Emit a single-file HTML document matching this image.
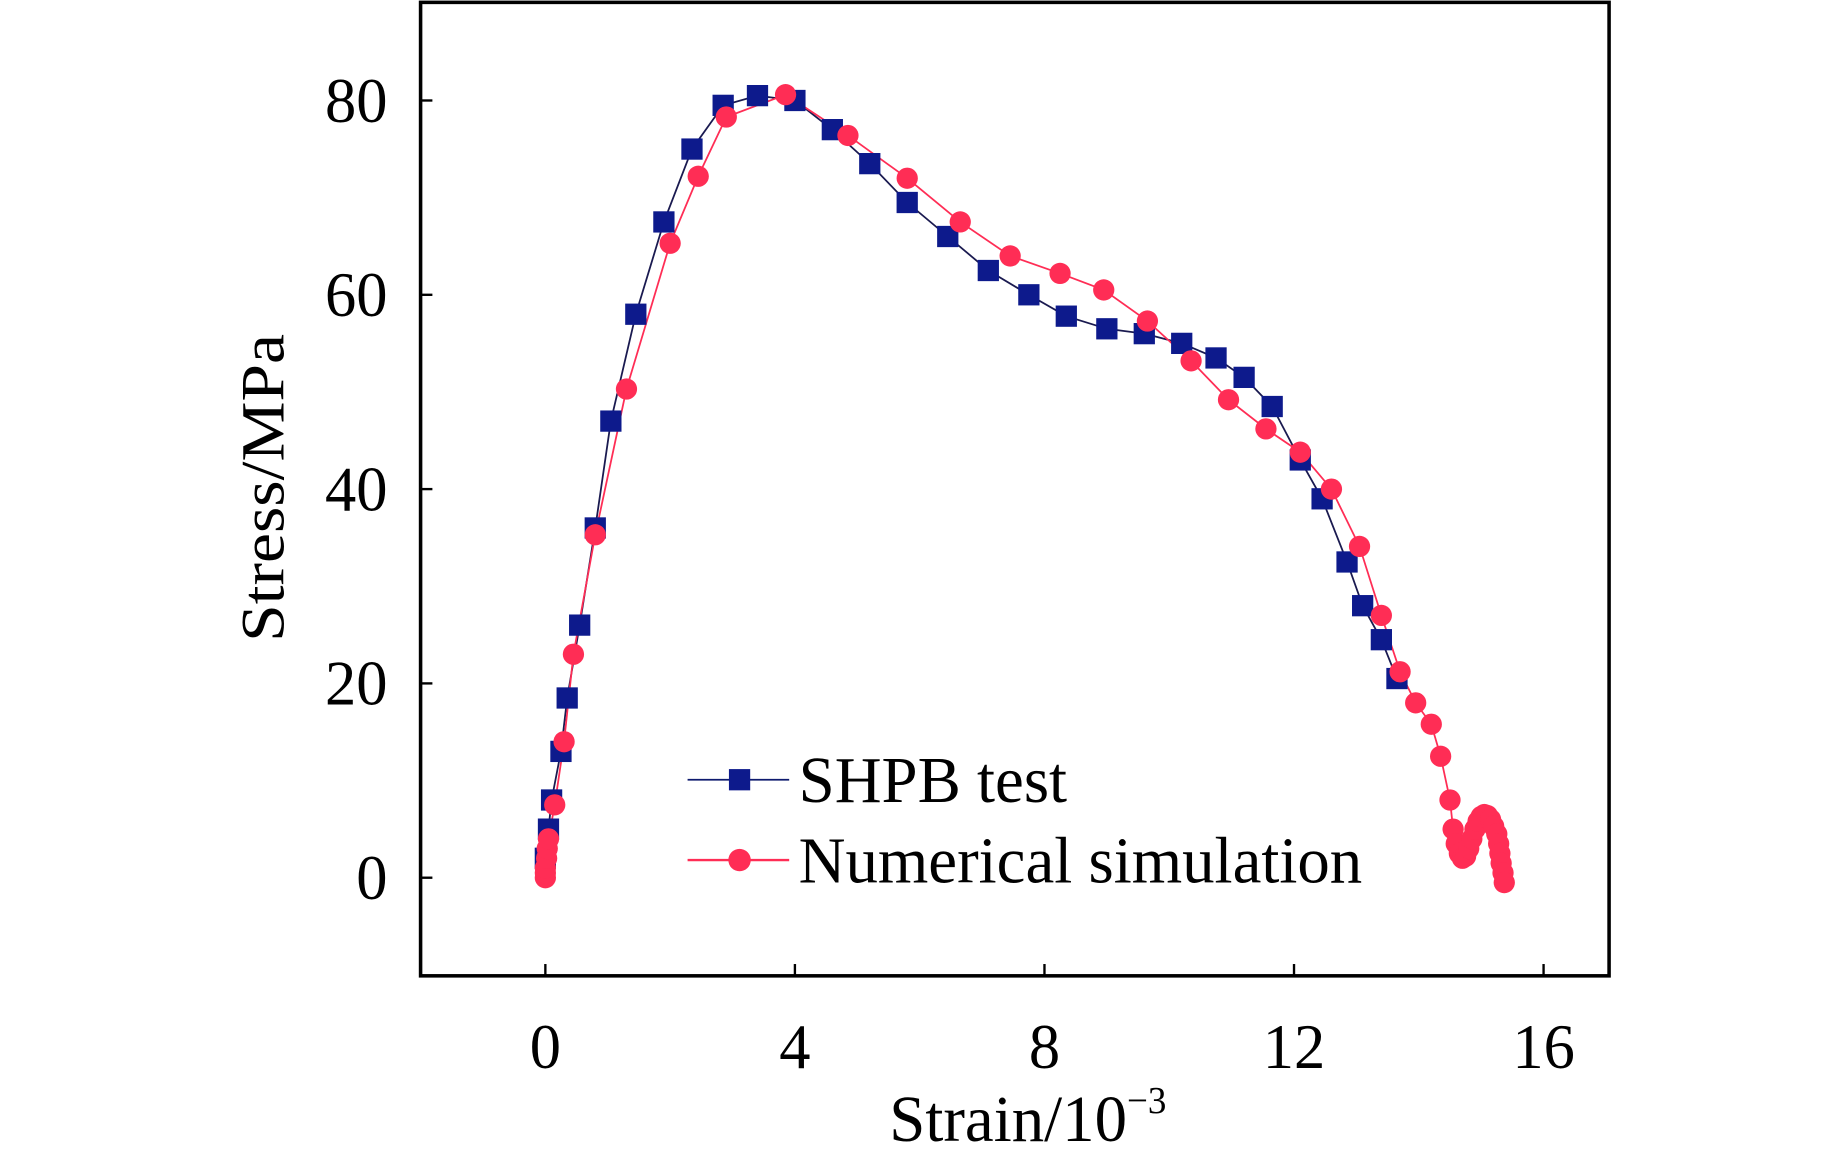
<!DOCTYPE html>
<html><head><meta charset="utf-8"><style>html,body{margin:0;padding:0;background:#fff}svg{display:block}</style></head>
<body>
<svg width="1843" height="1156" viewBox="0 0 1560 978.5" preserveAspectRatio="none" font-family="'Liberation Serif', serif">
<g id="axes"></g>
<g id="series"></g>
<text x="0" y="0" font-size="52" text-anchor="middle" transform="translate(240,413) rotate(-90) scale(1.1,1)">Stress/MPa</text>
<text x="0" y="0" font-size="56" text-anchor="middle" transform="translate(870,966) scale(0.98,1)">Strain/10<tspan font-size="32" dy="-24">−3</tspan></text>
<g>
<line x1="582" y1="660" x2="668" y2="660" stroke="#0d1a6e" stroke-width="1.5"/>
<rect x="617" y="651" width="18" height="18" fill="#0d1a8c"/>
<text x="0" y="0" font-size="56" transform="translate(676,679) scale(0.98,1)">SHPB test</text>
<line x1="582" y1="728" x2="668" y2="728" stroke="#ff2d55" stroke-width="2"/>
<circle cx="626" cy="728" r="9.5" fill="#ff2d55"/>
<text x="0" y="0" font-size="56" transform="translate(676,747) scale(0.98,1)">Numerical simulation</text>
</g>
</svg>
<script>
const xTicks=[0,4,8,12,16];
const yTicks=[0,20,40,60,80];
const shpbX=[0,0.05,0.1,0.25,0.35,0.55,0.8,1.05,1.45,1.9,2.35,2.85,3.4,4.0,4.6,5.2,5.8,6.45,7.1,7.75,8.35,9.0,9.6,10.2,10.75,11.2,11.65,12.1,12.45,12.85,13.1,13.4,13.65];
const shpbY=[2,5,8,13,18.5,26,36,47,58,67.5,75,79.5,80.5,80,77,73.5,69.5,66,62.5,60,57.8,56.5,56,55,53.5,51.5,48.5,43,39,32.5,28,24.5,20.5];
const simX=[0,0,0,0.02,0.03,0.05,0.15,0.3,0.45,0.8,1.3,2.0,2.45,2.9,3.85,4.85,5.8,6.65,7.45,8.25,8.95,9.65,10.35,10.95,11.55,12.1,12.6,13.05,13.4,13.7,13.95,14.2,14.35,14.5,14.55,14.6,14.65,14.7,14.75,14.8,14.85,14.9,14.95,15.0,15.05,15.1,15.15,15.2,15.25,15.28,15.3,15.32,15.35,15.37];
const simY=[0,0.5,1,2,3,4,7.5,14,23,35.3,50.3,65.3,72.2,78.3,80.6,76.4,72,67.5,64,62.2,60.5,57.3,53.2,49.2,46.2,43.8,40,34.1,27,21.2,18,15.8,12.5,8,5,3.5,2.5,2,2.2,3,4,5,5.8,6.3,6.5,6.4,6,5.3,4.5,3.5,2.5,1.5,0.5,-0.5];
const L=356,R=1362,T=2,B=826,xMin=-2,xMax=17.05,yMin=-10.1,yMax=90.1;
const sx=v=>L+(v-xMin)/(xMax-xMin)*(R-L);
const sy=v=>B-(v-yMin)/(yMax-yMin)*(B-T);
const NS='http://www.w3.org/2000/svg';
function mk(tag,attrs,parent){const e=document.createElementNS(NS,tag);for(const k in attrs)e.setAttribute(k,attrs[k]);parent.appendChild(e);return e;}
const ax=document.getElementById('axes');
const frame=mk('rect',{x:L,y:T,width:R-L,height:B-T,fill:'none',stroke:'#000','stroke-width':3},ax);


xTicks.forEach(t=>{
 const l=mk('line',{x1:sx(t),x2:sx(t),y1:B,y2:B-10,stroke:'#000','stroke-width':2},ax);
 
 
 const tx=mk('text',{x:0,y:0,'font-size':54,'text-anchor':'middle',transform:'translate('+sx(t)+','+(B+78)+') scale(0.98,1)'},ax);tx.textContent=t;
 
 
});
yTicks.forEach(t=>{
 const l=mk('line',{x1:L,x2:L+10,y1:sy(t),y2:sy(t),stroke:'#000','stroke-width':2},ax);
 
 
 const tx=mk('text',{x:0,y:0,'font-size':54,'text-anchor':'end',transform:'translate('+(L-28)+','+(sy(t)+18)+') scale(0.98,1)'},ax);tx.textContent=t;
 
 
});
const sg=document.getElementById('series');
const p1=mk('polyline',{points:shpbX.map((x,i)=>sx(x)+','+sy(shpbY[i])).join(' '),fill:'none',stroke:'#1a1a50','stroke-width':1.5},sg);


const p2=mk('polyline',{points:simX.map((x,i)=>sx(x)+','+sy(simY[i])).join(' '),fill:'none',stroke:'#ff2d55','stroke-width':1.5},sg);


shpbX.forEach((x,i)=>{
 const r=mk('rect',{x:sx(x)-9,y:sy(shpbY[i])-9,width:18,height:18,fill:'#0d1a8c'},sg);
 
 
});
simX.forEach((x,i)=>{
 const c=mk('circle',{cx:sx(x),cy:sy(simY[i]),r:9,fill:'#ff2d55'},sg);
 
 
});
</script>
</body></html>
